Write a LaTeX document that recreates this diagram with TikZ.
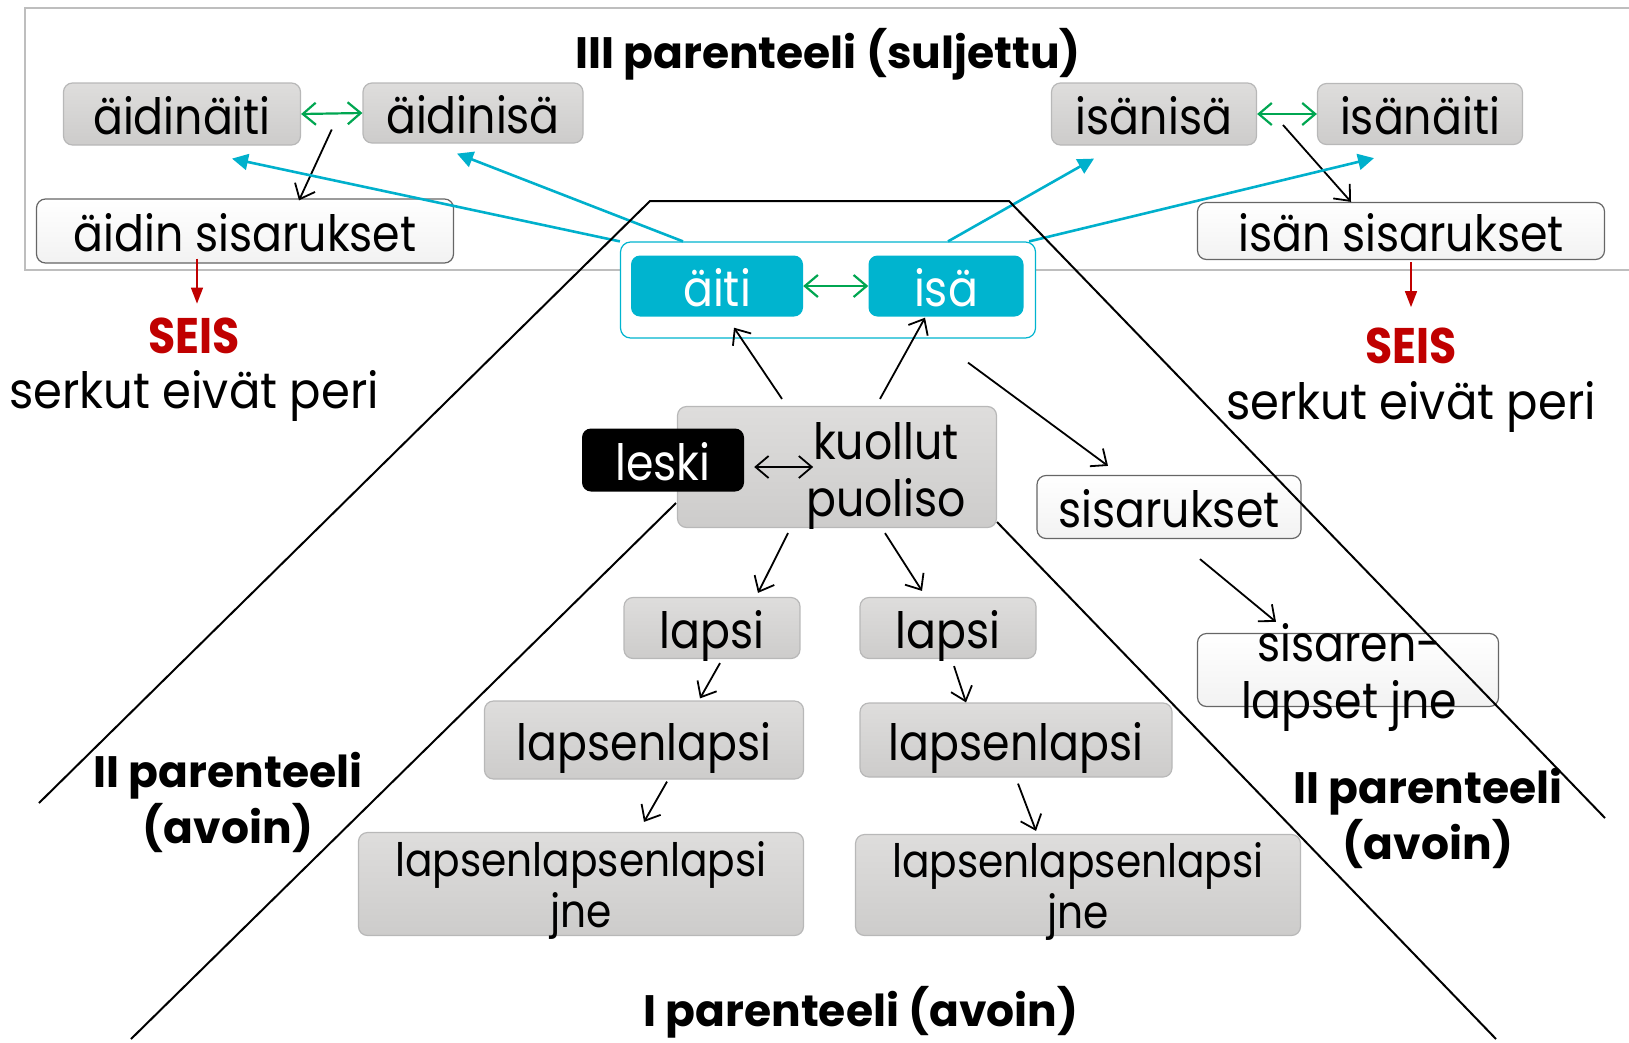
\documentclass[tikz,border=0pt]{standalone}
\usepackage{fontspec}
\setmainfont{Poppins}[FakeStretch=0.885]
\newfontfamily\headfont{Poppins}
\newfontfamily\widefont{Poppins}[FakeStretch=0.93]
\usetikzlibrary{arrows.meta}
\definecolor{famcyan}{HTML}{00B4CF}
\definecolor{arrcyan}{HTML}{00B0CC}
\definecolor{arrgreen}{HTML}{00A651}
\definecolor{seisred}{HTML}{C00000}
\definecolor{boxtop}{HTML}{DEDDDC}
\definecolor{boxbot}{HTML}{CDCCCB}
\definecolor{boxline}{HTML}{B8B8B8}
\definecolor{framegray}{HTML}{BEBEBE}

\begin{document}
\begin{tikzpicture}[x=1pt, y=-1pt,
    box/.style={rounded corners=9pt, minimum height=61pt, inner sep=0pt,
      font=\fontsize{50}{57}\selectfont, align=center, text height=45pt, text depth=5pt},
    graybox/.style={box, draw=boxline, line width=1.2pt, top color=boxtop, bottom color=boxbot},
    whitebox/.style={box, draw=black!60, line width=1.2pt, top color=white, bottom color=black!5},
    cyanbox/.style={box, fill=famcyan, text=white, minimum height=61pt},
    blackbox/.style={box, fill=black, text=white},
    famframe/.style={rounded corners=10pt, draw=famcyan, line width=1.2pt, fill=white},
    twoline/.style={font=\fontsize{46}{51}\selectfont, text height=, text depth=0pt},
    plain/.style={inner sep=0pt, align=center, font=\fontsize{50}{57}\selectfont},
    serkut/.style={inner sep=0pt, font=\widefont\fontsize{50}{57}\selectfont},
    seis/.style={inner sep=0pt, text=seisred, font=\bfseries\fontsize{50}{57}\selectfont},
    par/.style={inner sep=0pt, align=center, font=\headfont\bfseries\fontsize{44}{56}\selectfont},
    arr/.style={line width=1.8pt, -{Straight Barb[length=13pt, width=22pt]}},
    duo/.style={line width=1.8pt, {Straight Barb[length=13pt, width=22pt]}-{Straight Barb[length=13pt, width=22pt]}},
    greenduo/.style={duo, line width=2.2pt, draw=arrgreen},
    cyanarr/.style={line width=2.6pt, draw=arrcyan, -{Triangle[length=16pt, width=16pt]}},
    redarr/.style={line width=1.6pt, draw=seisred, -{Triangle[length=16pt, width=12pt]}},
    rajaviiva/.style={line width=2pt}
  ]
  \useasboundingbox (0,0) rectangle (1629,1042);
  \draw[line width=2.5pt, draw=framegray] (25,8) rectangle (1650,270);
  \node[par] (kolmas) at (828,54) {III parenteeli (suljettu)};

  \node[graybox, minimum width=237, minimum height=62] (aidinaiti) at (182,114) {äidinäiti};
  \node[graybox, minimum width=220, minimum height=60] (aidinisa) at (473,113) {äidinisä};
  \node[whitebox, minimum width=417, minimum height=64] (aidinsis) at (245,231) {äidin sisarukset};
  \node[graybox, minimum width=205, minimum height=62] (isanisa) at (1154,114) {isänisä};
  \node[graybox, minimum width=205, minimum height=61] (isanaiti) at (1420,114) {isänäiti};
  \node[whitebox, minimum width=407, minimum height=57] (isansis) at (1401,231) {isän sisarukset};

  \node[seis] (seisL) at (194,336) {SEIS};
  \node[serkut] (serkutL) at (194,396) {serkut eivät peri};
  \node[seis] (seisR) at (1411,346) {SEIS};
  \node[serkut] (serkutR) at (1411,407) {serkut eivät peri};

  \node[famframe, minimum width=415, minimum height=96] (perhe) at (828,290) {};
  \node[cyanbox, minimum width=172] (aiti) at (717,286) {äiti};
  \node[cyanbox, minimum width=155] (isa) at (946,286) {isä};

  \node[graybox, minimum width=319, minimum height=121] (kuollut) at (837,467) {};
  \node[plain] (kuolluttxt) at (886,476) {kuollut\\puoliso};
  \node[blackbox, minimum width=162, minimum height=63] (leski) at (663,460) {leski};

  \node[whitebox, minimum width=264, minimum height=63] (sisarukset) at (1169,507) {sisarukset};
  \node[whitebox, minimum width=301, minimum height=73] (sisaren) at (1348,670) {};
  \node[plain] (sisarentxt) at (1349,677) {sisaren-\\lapset jne};

  \node[graybox, minimum width=176] (lapsi1) at (712,628) {lapsi};
  \node[graybox, minimum width=176] (lapsi2) at (948,628) {lapsi};
  \node[graybox, minimum width=319, minimum height=78] (ll1) at (644,740) {lapsenlapsi};
  \node[graybox, minimum width=312, minimum height=74] (ll2) at (1016,740) {lapsenlapsi};
  \node[graybox, twoline, minimum width=445, minimum height=103] (lll1) at (581,884) {lapsenlapsenlapsi\\jne};
  \node[graybox, twoline, minimum width=445, minimum height=101] (lll2) at (1078,885) {lapsenlapsenlapsi\\jne};

  \node[par] (toinenL) at (228,802) {II parenteeli\\(avoin)};
  \node[par] (toinenR) at (1428,818) {II parenteeli\\(avoin)};
  \node[par] (ensimmainen) at (861,1012) {I parenteeli (avoin)};

  \draw[greenduo] (aidinaiti.east) -- coordinate[pos=.5] (am) (aidinisa.west);
  \draw[greenduo] (isanisa.east) -- coordinate[pos=.5] (im) (isanaiti.west);
  \draw[greenduo] (aiti.east) -- (isa.west);
  \draw[arr] ([shift={(0,16)}]am) -- ([shift={(54,2)}]aidinsis.north);
  \draw[arr] ([shift={(-4,11)}]im) -- ([shift={(-50,0)}]isansis.north);
  \draw[redarr] ([shift={(-48,-5)}]aidinsis.south) -- ([shift={(-48,40)}]aidinsis.south);
  \draw[redarr] ([shift={(10,2)}]isansis.south) -- ([shift={(10,47)}]isansis.south);

  \draw[cyanarr] (perhe.north west) -- ([shift={(50,13)}]aidinaiti.south);
  \draw[cyanarr] ([shift={(-145,0)}]perhe.north) -- ([shift={(-16,10)}]aidinisa.south);
  \draw[cyanarr] ([shift={(120,0)}]perhe.north) -- ([shift={(-60,13)}]isanisa.south);
  \draw[cyanarr] ([shift={(-7,0)}]perhe.north east) -- ([shift={(-46,13)}]isanaiti.south);

  \draw[arr] ([shift={(-55,-7)}]kuollut.north) -- ([shift={(17,11)}]aiti.south);
  \draw[arr] ([shift={(43,-7)}]kuollut.north) -- ([shift={(-21,1)}]isa.south);
  \draw[duo] ([shift={(10,7)}]leski.east) -- ([shift={(69,7)}]leski.east);
  \draw[arr] ([shift={(140,24)}]perhe.south) -- ([shift={(-61,-9)}]sisarukset.north);
  \draw[arr] ([shift={(31,20)}]sisarukset.south) -- ([shift={(-72,-11)}]sisaren.north);
  \draw[arr] ([shift={(-49,5)}]kuollut.south) -- ([shift={(46,-4)}]lapsi1.north);
  \draw[arr] ([shift={(48,5)}]kuollut.south) -- ([shift={(-26,-6)}]lapsi2.north);
  \draw[arr] ([shift={(8,4)}]lapsi1.south) -- ([shift={(56,-2)}]ll1.north);
  \draw[arr] ([shift={(6,7)}]lapsi2.south) -- ([shift={(-50,0)}]ll2.north);
  \draw[arr] ([shift={(23,2)}]ll1.south) -- ([shift={(63,-10)}]lll1.north);
  \draw[arr] ([shift={(2,6)}]ll2.south) -- ([shift={(-42,-3)}]lll2.north);

  \draw[rajaviiva] (39,803) -- (650,201) -- (1009,201) -- (1605,818);
  \draw[rajaviiva] (131,1039) -- (676,503);
  \draw[rajaviiva] (997,522) -- (1496,1039);
\end{tikzpicture}
\end{document}
